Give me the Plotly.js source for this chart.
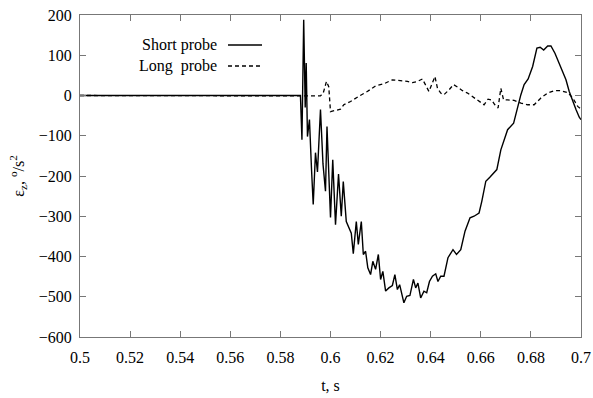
<!DOCTYPE html>
<html>
<head>
<meta charset="utf-8">
<script src="https://cdn.plot.ly/plotly-3.0.1.min.js"></script>
<style>html,body{margin:0;padding:0;background:#fff;}#chart{width:593px;height:398px;}</style>
</head>
<body>
<div id="chart"></div>
<script>
// Short probe
const shortT = [0.5, 0.588, 0.5886, 0.5893, 0.5899, 0.5903, 0.5908, 0.5916, 0.5924, 0.5931, 0.594, 0.5948, 0.596, 0.597, 0.598, 0.5986,
  0.6, 0.6009, 0.602, 0.6032, 0.6043, 0.6051, 0.6063, 0.6073, 0.6083, 0.6091, 0.6103, 0.6111, 0.6123, 0.6131, 0.614, 0.6149,
  0.616, 0.6169, 0.618, 0.6191, 0.62, 0.6209, 0.622, 0.6233, 0.6247, 0.6257, 0.6267, 0.6276, 0.6284, 0.6293, 0.6304, 0.6317,
  0.6331, 0.634, 0.6349, 0.636, 0.6373, 0.6384, 0.6395, 0.6407, 0.642, 0.6429, 0.644, 0.6453, 0.6469, 0.6489, 0.6503, 0.652,
  0.6537, 0.6557, 0.6573, 0.6593, 0.6604, 0.662, 0.6636, 0.6664, 0.668, 0.6693, 0.6707, 0.6731, 0.6744, 0.676, 0.6773, 0.6789,
  0.6807, 0.6824, 0.6837, 0.6851, 0.6867, 0.688, 0.6896, 0.6913, 0.6927, 0.694, 0.6953, 0.6967, 0.698, 0.6993, 0.7];
const shortV = [0, 0, -110, 188, -30, 81, -102, -60, -180, -271, -142, -190, -35, -170, -238, -77,
  -303, -160, -321, -195, -300, -214, -313, -329, -342, -393, -313, -370, -313, -395, -387, -428,
  -445, -412, -432, -395, -457, -437, -486, -478, -472, -445, -482, -470, -495, -515, -499, -497,
  -457, -478, -466, -503, -486, -490, -462, -449, -443, -462, -449, -449, -403, -383, -395, -383,
  -337, -304, -300, -292, -263, -213, -203, -184, -135, -110, -85, -69, -35, 2, 27, 41,
  72, 118, 120, 113, 123, 123, 105, 80, 60, 39, 10, -15, -35, -54, -60];

// Long probe
const longT = [0.5, 0.592, 0.596, 0.5971, 0.5984, 0.5993, 0.6, 0.602, 0.604, 0.6053, 0.608, 0.6113, 0.6147, 0.618, 0.6213,
  0.6247, 0.628, 0.6307, 0.6327, 0.6347, 0.6367, 0.638, 0.6393, 0.6417, 0.6427, 0.644, 0.6453, 0.6473, 0.6491, 0.6507,
  0.6527, 0.6547, 0.6573, 0.6597, 0.6613, 0.6629, 0.6643, 0.6656, 0.6669, 0.668, 0.6691, 0.6707, 0.6733, 0.676, 0.6787,
  0.6813, 0.684, 0.6867, 0.6893, 0.692, 0.6947, 0.6967, 0.6987, 0.7];
const longV = [0, 0, -1, 6, 35, 22, -40, -37, -34, -23, -15, -2, 10, 24, 29,
  39, 37, 35, 32, 35, 41, 27, 10, 47, 18, 6, 2, 14, 27, 21,
  12, 6, -6, -15, -23, -9, -11, -23, -31, 18, -11, -11, -12, -19, -23,
  -23, -6, 6, 12, 12, 7, -6, -27, -34];

const seriesNames = ["Short probe", "Long probe"];
const xTicks = [0.5, 0.52, 0.54, 0.56, 0.58, 0.6, 0.62, 0.64, 0.66, 0.68, 0.7];
const xTickText = ["0.5", "0.52", "0.54", "0.56", "0.58", "0.6", "0.62", "0.64", "0.66", "0.68", "0.7"];
const yTicks = [200, 100, 0, -100, -200, -300, -400, -500, -600];

const FONT = "Liberation Serif, Times New Roman, serif";
const axisCol = "#777";

const traces = [
  {x: longT, y: longV, type: "scatter", mode: "lines", name: seriesNames[1],
   line: {color: "#000", width: 1.3, dash: "4px,3px"}, showlegend: false},
  {x: shortT, y: shortV, type: "scatter", mode: "lines", name: seriesNames[0],
   line: {color: "#000", width: 1.4}, showlegend: false}
];

const layout = {
  width: 593, height: 398,
  margin: {l: 80, r: 12, t: 15, b: 61},
  paper_bgcolor: "#fff", plot_bgcolor: "#fff",
  font: {family: FONT, size: 16, color: "#000"},
  xaxis: {
    range: [0.5, 0.7], tickvals: xTicks, ticktext: xTickText,
    ticks: "inside", ticklen: 6, tickcolor: axisCol, showline: true, linecolor: axisCol, linewidth: 1,
    mirror: "allticks", showgrid: false, zeroline: false,
    tickfont: {family: FONT, size: 16}, ticklabelstandoff: 6,
    title: {text: "t, s", font: {family: FONT, size: 16}, standoff: 14}
  },
  yaxis: {
    range: [-600, 200], tickvals: yTicks,
    ticks: "inside", ticklen: 6, tickcolor: axisCol, showline: true, linecolor: axisCol, linewidth: 1,
    mirror: "allticks", showgrid: false, zeroline: false,
    tickfont: {family: FONT, size: 16}, ticklabelstandoff: 4,
    title: {text: "ε<sub>z</sub>, <sup>o</sup>/s<sup>2</sup>", font: {family: FONT, size: 16}, standoff: 10}
  },
  annotations: [
    {xref: "paper", yref: "paper", x: 0.2774, y: 0.9068, xanchor: "right", yanchor: "middle",
     text: seriesNames[0], showarrow: false, font: {family: FONT, size: 16, color: "#000"}},
    {xref: "paper", yref: "paper", x: 0.2774, y: 0.8416, xanchor: "right", yanchor: "middle",
     text: seriesNames[1].replace(" ", "&nbsp;&nbsp;"), showarrow: false, font: {family: FONT, size: 16, color: "#000"}}
  ],
  shapes: [
    {type: "line", xref: "paper", yref: "paper", x0: 0.2954, x1: 0.3633, y0: 0.9068, y1: 0.9068,
     line: {color: "#000", width: 1.4}},
    {type: "line", xref: "paper", yref: "paper", x0: 0.2954, x1: 0.3633, y0: 0.8416, y1: 0.8416,
     line: {color: "#000", width: 1.3, dash: "4px,3px"}}
  ]
};

Plotly.newPlot("chart", traces, layout, {displayModeBar: false, staticPlot: true});
</script>
</body>
</html>
